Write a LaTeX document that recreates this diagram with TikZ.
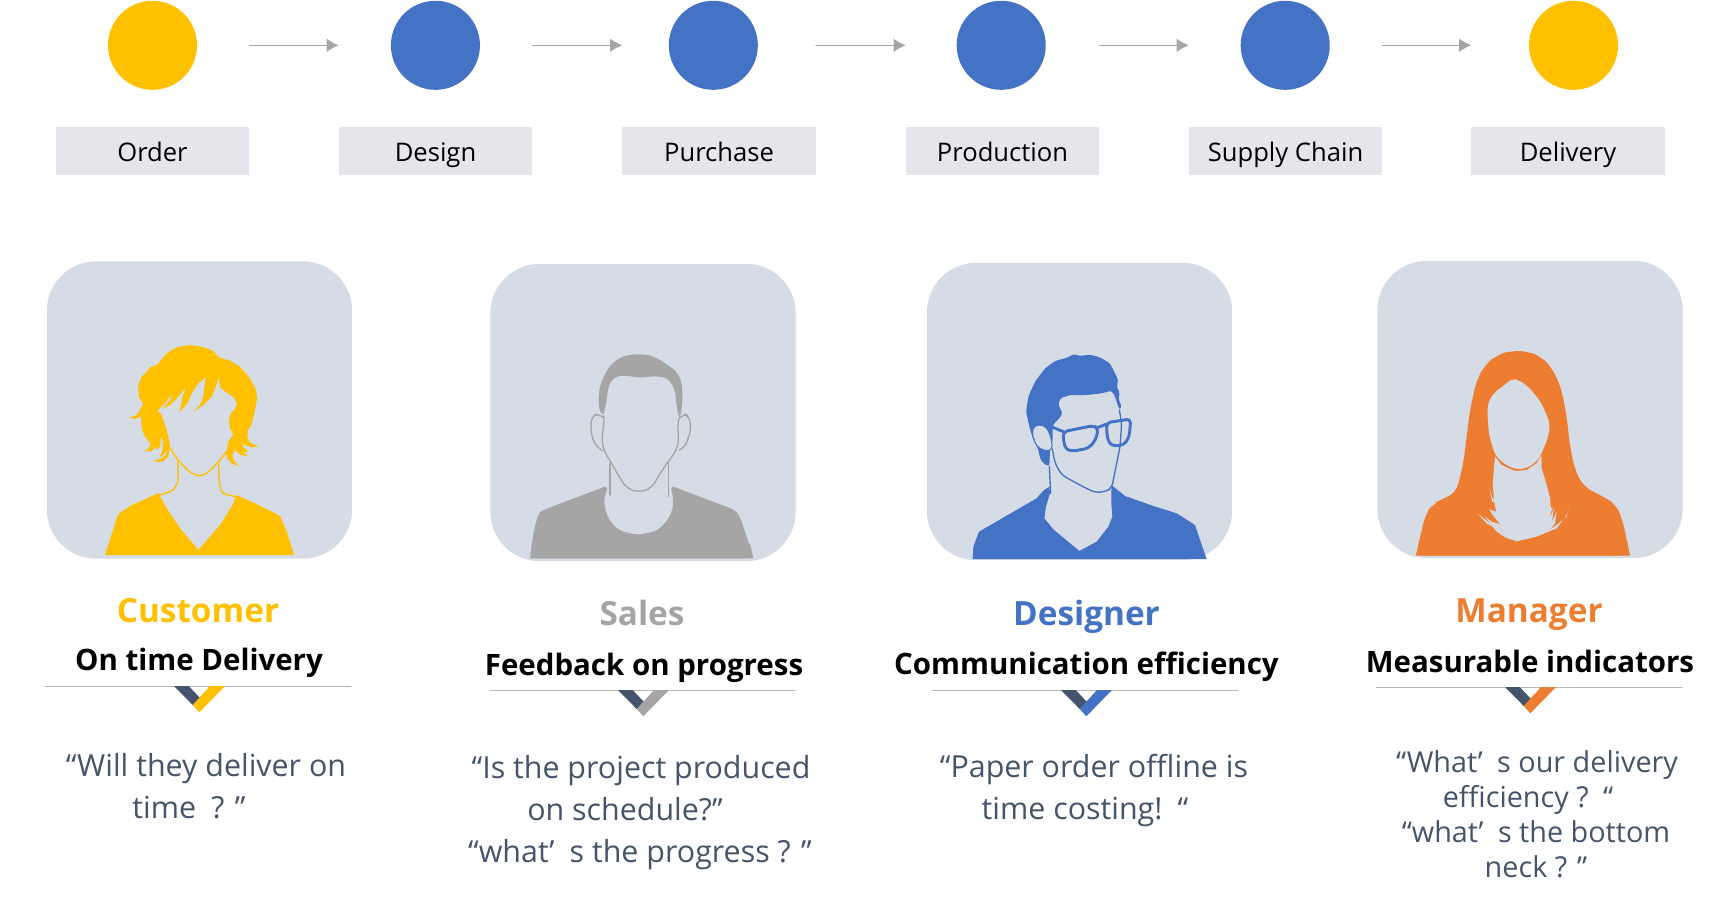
\documentclass[tikz,border=0pt]{standalone}
\usepackage{fontspec}
\usetikzlibrary{arrows.meta}
\setmainfont{Open Sans}
\definecolor{amberc}{HTML}{FFC000}
\definecolor{bluec}{HTML}{4472C4}
\definecolor{grayc}{HTML}{A5A5A5}
\definecolor{orangec}{HTML}{ED7D31}
\definecolor{cardc}{HTML}{D6DCE5}
\definecolor{boxc}{HTML}{E4E6EB}
\definecolor{slatec}{HTML}{44546A}
\begin{document}
\begin{tikzpicture}[
    x=0.75pt,
    y=-0.75pt,
    line cap=round,
    line join=round,
    stage/.style={circle, minimum size=66.8pt, inner sep=0pt},
    stagebox/.style={fill=boxc, minimum width=144.8pt, minimum height=36pt, inner sep=0pt, text height=19pt, text depth=4pt, font=\fontsize{19.2}{23}\selectfont},
    flow/.style={draw=grayc, line width=0.75pt, -{Latex[length=9pt,width=10pt]}},
    card/.style={fill=cardc, rounded corners=37pt, minimum width=229pt, minimum height=223pt, inner sep=0pt},
    rolename/.style={text height=24.6pt, text depth=5pt, font=\bfseries\fontsize{25}{30}\selectfont},
    concern/.style={text height=22pt, text depth=5pt, font=\bfseries\fontsize{22.1}{27}\selectfont, text=black},
    rulerline/.style={draw=black!28, line width=0.75pt},
    quoteline/.style={text height=22.6pt, text depth=5pt, font=\fontsize{22.8}{26}\selectfont, text=slatec},
    quotesmall/.style={quoteline, font=\fontsize{21.6}{26}\selectfont},
    wire/.style={line width=1pt, fill=none}
]
\useasboundingbox (0,0) rectangle (1726,899);

% process row
\node[stage, fill=amberc] (circOrder) at (152.5,45.3) {};
\node[stage, fill=bluec] (circDesign) at (435.4,45.3) {};
\node[stage, fill=bluec] (circPurchase) at (713.3,45.3) {};
\node[stage, fill=bluec] (circProduction) at (1001.2,45.3) {};
\node[stage, fill=bluec] (circSupply) at (1285.2,45.3) {};
\node[stage, fill=amberc] (circDelivery) at (1573.5,45.3) {};

\node[stagebox] (boxOrder) at (152.5,151) {Order};
\node[stagebox] (boxDesign) at (435.5,151) {Design};
\node[stagebox] (boxPurchase) at (719,151) {Purchase};
\node[stagebox] (boxProduction) at (1002.5,151) {Production};
\node[stagebox] (boxSupply) at (1285.5,151) {Supply Chain};
\node[stagebox] (boxDelivery) at (1568,151) {Delivery};

\draw[flow] (boxOrder.north east |- circOrder) -- (boxDesign.north west |- circOrder);
\draw[flow] (boxDesign.north east |- circOrder) -- (boxPurchase.north west |- circOrder);
\draw[flow] (boxPurchase.north east |- circOrder) -- (boxProduction.north west |- circOrder);
\draw[flow] (boxProduction.north east |- circOrder) -- (boxSupply.north west |- circOrder);
\draw[flow] (boxSupply.north east |- circOrder) -- (boxDelivery.north west |- circOrder);

% cards
\node[card] (cardCustomer) at (199.5,410) {};
\node[card] (cardSales) at (643,412.5) {};
\node[card] (cardDesigner) at (1079.5,411.5) {};
\node[card] (cardManager) at (1530,409.5) {};

% customer
\begin{scope}[shift={(30,250)}, scale=1/3]
  \fill[amberc] (225,915)--(262,800)--(270,788)--(300,768)--(385,729)--(410,775)--(450,835)--(505,900)--(570,825)--(605,770)--(620,735)--(700,772)--(750,798)--(770,845)--(792,915)--cycle;
  \fill[amberc] (382,344)--(410,310)--(440,292)--(478,285)--(520,291)--(550,303)--(568,323)--(600,332)--(630,350)--(660,385)--(678,420)--(681,445)--(675,480)--(665,522)--(653,542)--(652,562)--(660,578)--(684,590)--(665,592)--(645,585)--(637,574)--(640,590)--(655,605)--(640,606)--(655,620)--(630,614)--(615,600)--(607,615)--(612,632)--(627,650)--(605,640)--(592,625)--(588,610)--(596,575)--(610,553)--(600,535)--(597,510)--(603,490)--(616,476)--(620,460)--(612,442)--(590,428)--(570,412)--(566,382)--(558,408)--(545,440)--(520,465)--(490,486)--(510,465)--(520,440)--(527,382)--(505,400)--(485,430)--(472,460)--(448,488)--(458,440)--(468,410)--(445,440)--(420,465)--(398,476)--(420,450)--(432,425)--(405,460)--(383,481)--(395,495)--(410,540)--(418,575)--(421,595)--(418,600)--(414,620)--(400,634)--(385,636)--(370,631)--(390,628)--(408,615)--(412,600)--(400,615)--(388,622)--(398,600)--(400,575)--(393,560)--(390,590)--(380,600)--(378,590)--(365,603)--(340,603)--(355,598)--(362,582)--(345,560)--(335,535)--(333,498)--(315,507)--(298,503)--(320,495)--(340,462)--(326,440)--(325,405)--(335,380)--(348,368)--(360,352)--cycle;
  \draw[wire, amberc] (421,595) .. controls (445,635) and (480,677) .. (508,677) .. controls (535,677) and (565,635) .. (590,605);
  \draw[wire, amberc, rounded corners=3pt] (443,632)--(445,690)--(438,710)--(425,725)--(388,735);
  \draw[wire, amberc, rounded corners=3pt] (566,640)--(567,690)--(572,720)--(580,732)--(618,740);
\end{scope}

% sales
\begin{scope}[shift={(480,250)}, scale=1/3]
  \fill[grayc, rounded corners=4pt] (150,925)--(160,850)--(175,790)--(190,780)--(385,706)--(372,745)--(375,780)--(390,815)--(420,843)--(475,855)--(530,843)--(560,815)--(578,780)--(580,740)--(570,706)--(765,780)--(780,800)--(800,860)--(820,925)--cycle;
  \fill[grayc] (150,925)--(156,880)--(810,880)--(820,925)--cycle;
  \fill[grayc, rounded corners=4pt] (368,500)--(355,470)--(357,420)--(370,380)--(395,340)--(430,318)--(470,312)--(510,315)--(550,335)--(590,365)--(605,395)--(608,440)--(605,480)--(598,510)--(590,470)--(585,420)--(565,385)--(530,378)--(480,383)--(430,376)--(400,382)--(385,410)--(380,450)--(370,495)--cycle;
  \draw[wire, grayc, rounded corners=3pt] (370,502)--(355,492)--(340,495)--(332,520)--(335,560)--(350,590)--(368,602);
  \draw[wire, grayc, rounded corners=3pt] (598,505)--(612,492)--(625,497)--(632,520)--(630,550)--(615,590)--(597,600);
  \draw[wire, grayc, rounded corners=5pt] (372,500)--(372,525)--(365,560)--(370,600)--(395,640)--(420,685)--(440,715)--(475,727)--(515,715)--(540,670)--(565,635)--(590,600)--(597,565)--(592,530)--(597,505);
  \draw[wire, grayc] (390,640)--(390,735);
  \draw[wire, grayc] (566,640)--(566,740);
\end{scope}

% designer
\begin{scope}[shift={(920,250)}, scale=1/3]
  \fill[bluec] (158,927)--(160,890)--(177,845)--(350,745)--(370,722)--(388,710)--(390,730)--(378,770)--(373,805)--(400,838)--(478,903)--(530,875)--(565,830)--(577,800)--(574,760)--(574,705)--(615,738)--(700,768)--(770,790)--(825,825)--(840,870)--(860,927)--cycle;
  \fill[bluec, rounded corners=2pt] (318,485)--(325,440)--(345,395)--(375,355)--(405,333)--(445,322)--(460,312)--(480,318)--(510,314)--(540,322)--(570,340)--(585,370)--(595,390)--(590,410)--(600,430)--(595,445)--(605,470)--(598,480)--(585,440)--(575,422)--(545,430)--(500,435)--(450,435)--(420,445)--(415,465)--(428,490)--(418,505)--(398,525)--(398,572)--(390,600)--(388,650)--(370,640)--(360,625)--(355,598)--(340,570)--(328,530)--cycle;
  \filldraw[fill=cardc, draw=bluec, line width=0.75pt, rounded corners=3pt] (335,548)--(345,525)--(370,525)--(385,540)--(395,570)--(397,600)--(375,603)--(350,590)--cycle;
  \draw[wire, bluec, rounded corners=4pt] (397,597)--(405,640)--(425,675)--(470,700)--(525,728)--(555,725)--(575,715)--(585,665)--(600,590)--(605,520)--(598,480);
  \draw[wire, bluec] (388,650)--(392,730);
  \draw[bluec, line width=2.2pt, rounded corners=3pt] (430,545)--(520,527)--(535,535)--(527,570)--(505,595)--(460,603)--(438,600)--(430,570)--cycle;
  \draw[bluec, line width=2.2pt, rounded corners=3pt] (560,518)--(632,507)--(628,560)--(612,585)--(575,588)--(563,570)--(560,540)--cycle;
  \draw[bluec, line width=2.2pt] (398,532)--(430,545);
  \draw[bluec, line width=2.2pt] (535,532)--(560,522);
\end{scope}

% manager
\begin{scope}[shift={(1370,250)}, scale=1/3]
  \fill[orangec, rounded corners=7pt] (137,917)--(167,790)--(190,762)--(220,745)--(258,730)--(280,640)--(290,560)--(300,480)--(320,390)--(345,345)--(380,315)--(420,303)--(470,303)--(515,320)--(550,360)--(575,420)--(590,500)--(600,590)--(615,660)--(640,710)--(700,740)--(740,765)--(760,820)--(780,917)--cycle;
  \fill[orangec] (137,917)--(150,870)--(770,870)--(780,917)--cycle;
  \fill[cardc, rounded corners=4pt] (425,385)--(405,405)--(375,425)--(355,455)--(352,490)--(357,555)--(375,615)--(400,640)--(435,658)--(470,655)--(500,635)--(515,610)--(535,560)--(540,520)--(515,460)--(480,415)--(450,392)--cycle;
  \fill[cardc] (375,620)--(395,645)--(435,663)--(470,660)--(500,640)--(514,615)--(515,655)--(530,705)--(540,745)--(543,775)--(548,770)--(538,805)--(552,775)--(546,815)--(560,785)--(555,820)--(535,845)--(500,860)--(440,874)--(405,862)--(388,820)--(368,795)--(358,778)--(378,785)--(372,750)--(368,700)--cycle;
  \fill[cardc] (358,715)--(368,745)--(380,758)--(367,755)--cycle;
  \fill[cardc] (322,790)--(350,820)--(380,837)--(350,812)--cycle;
  \fill[cardc] (345,800)--(365,815)--(388,822)--(405,862)--(380,845)--cycle;
  \fill[cardc] (527,848)--(560,835)--(578,810)--(555,828)--cycle;
  \fill[cardc] (597,768)--(590,800)--(585,805)--(592,790)--cycle;
\end{scope}

% role labels
\node[rolename, text=amberc] (roleCustomer) at (198,609) {Customer};
\node[rolename, text=grayc] (roleSales) at (642,612) {Sales};
\node[rolename, text=bluec] (roleDesigner) at (1086.5,612) {Designer};
\node[rolename, text=orangec] (roleManager) at (1529,609) {Manager};

\node[concern] (needCustomer) at (199,659) {On time Delivery};
\node[concern] (needSales) at (644,664) {Feedback on progress};
\node[concern] (needDesigner) at (1086.5,663) {Communication efficiency};
\node[concern] (needManager) at (1530,661) {Measurable indicators};

% rulers and chevrons
\draw[rulerline] (45,686) -- (351,686);
\fill[slatec] (174,686)--(192.7,705)--(200,698)--(188.7,686)--cycle;
\fill[amberc] (210,686)--(225,686)--(199.3,712.3)--(192.7,705)--cycle;

\draw[rulerline] (490,690) -- (795,690);
\fill[slatec] (618,690)--(636.7,709)--(644,702)--(632.7,690)--cycle;
\fill[grayc] (654,690)--(669,690)--(643.3,716.3)--(636.7,709)--cycle;

\draw[rulerline] (932,690) -- (1238,690);
\fill[slatec] (1061,690)--(1079.7,709)--(1087,702)--(1075.7,690)--cycle;
\fill[bluec] (1097,690)--(1112,690)--(1086.3,716.3)--(1079.7,709)--cycle;

\draw[rulerline] (1376,687) -- (1682,687);
\fill[slatec] (1505,687)--(1523.7,706)--(1531,699)--(1519.7,687)--cycle;
\fill[orangec] (1541,687)--(1556,687)--(1530.3,713.3)--(1523.7,706)--cycle;

% quotes
\node[quoteline] (quoteCustomerA) at (206,765) {“Will they deliver on};
\node[quoteline] (quoteCustomerB) at (189,807) {time\enspace? ”};

\node[quoteline] (quoteSalesA) at (641,767) {“Is the project produced};
\node[quoteline] (quoteSalesB) at (625,809) {on schedule?”};
\node[quoteline] (quoteSalesC) at (640,851) {“what’\enspace s the progress ? ”};

\node[quoteline] (quoteDesignerA) at (1094,766) {“Paper order offline is};
\node[quoteline] (quoteDesignerB) at (1085,808) {time costing!\enspace “};

\node[quotesmall] (quoteManagerA) at (1537,761) {“What’\enspace s our delivery};
\node[quotesmall] (quoteManagerB) at (1528,796) {efficiency ?\enspace “};
\node[quotesmall] (quoteManagerC) at (1536,831) {“what’\enspace s the bottom};
\node[quotesmall] (quoteManagerD) at (1536,866) {neck ? ”};
\end{tikzpicture}
\end{document}
